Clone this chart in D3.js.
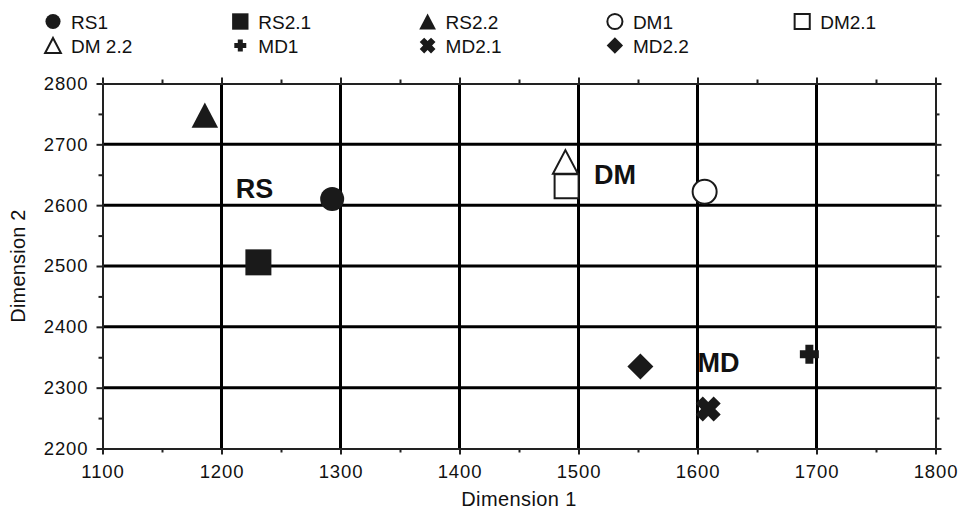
<!DOCTYPE html>
<html>
<head>
<meta charset="utf-8">
<script src="https://cdn.jsdelivr.net/npm/d3@7"></script>
<style>
  body { margin: 0; background: #fff; }
  text { font-family: "Liberation Sans", Arial, Helvetica, sans-serif; fill: #111; }
</style>
</head>
<body>
<div id="chart"></div>
<script>
// Data
var series = ["RS1", "RS2.1", "RS2.2", "DM1", "DM2.1", "DM 2.2", "MD1", "MD2.1", "MD2.2"];
var dim1 = [1293, 1231, 1186, 1606, 1490, 1489, 1694, 1609, 1552];
var dim2 = [2610, 2506, 2748, 2622, 2631, 2671, 2355, 2265, 2335];

// Group annotations
var groupNames = ["RS", "DM", "MD"];
var groupX = [1212, 1513, 1600];
var groupY = [2611, 2634, 2326];

// Axis ticks
var xTicks = [1100, 1200, 1300, 1400, 1500, 1600, 1700, 1800];
var xMinor = [1150, 1250, 1350, 1450, 1550, 1650, 1750];
var yTicks = [2200, 2300, 2400, 2500, 2600, 2700, 2800];
var yMinor = [2250, 2350, 2450, 2550, 2650, 2750];

var width = 961;
var height = 510;
var ink = "#1a1a1a";

var svg = d3
  .select("#chart")
  .append("svg")
  .attr("width", width)
  .attr("height", height);

var xScale = d3.scaleLinear().domain([1100, 1800]).range([102.5, 935.5]);
var yScale = d3.scaleLinear().domain([2200, 2800]).range([448.5, 83.5]);

// Marker shapes, sized by full width (size = width^2)
function poly(context, pts) {
  context.moveTo(pts[0][0], pts[0][1]);
  for (var i = 1; i < pts.length; i++) context.lineTo(pts[i][0], pts[i][1]);
  context.closePath();
}
var shapes = {
  circle: { draw: function(c, s) { var r = Math.sqrt(s) / 2; c.moveTo(r, 0); c.arc(0, 0, r, 0, 2 * Math.PI); } },
  square: { draw: function(c, s) { var h = Math.sqrt(s) / 2; c.rect(-h, -h, 2 * h, 2 * h); } },
  triangle: { draw: function(c, s) {
    var w = Math.sqrt(s) / 2, h = w * 0.95;
    poly(c, [[0, -h], [w, h], [-w, h]]);
  } },
  diamond: { draw: function(c, s) {
    var w = Math.sqrt(s) / 2;
    poly(c, [[0, -w], [w, 0], [0, w], [-w, 0]]);
  } },
  plus: { draw: function(c, s) {
    var a = Math.sqrt(s) / 2, b = a * 0.42;
    poly(c, [[-b, -a], [b, -a], [b, -b], [a, -b], [a, b], [b, b], [b, a], [-b, a], [-b, b], [-a, b], [-a, -b], [-b, -b]]);
  } },
  cross: { draw: function(c, s) {
    var w = Math.sqrt(s), b = w * 0.2, a = w / Math.SQRT2 - b;
    var pts = [[-b, -a], [b, -a], [b, -b], [a, -b], [a, b], [b, b], [b, a], [-b, a], [-b, b], [-a, b], [-a, -b], [-b, -b]];
    var k = Math.SQRT1_2;
    poly(c, pts.map(function(p) { return [(p[0] - p[1]) * k, (p[0] + p[1]) * k]; }));
  } }
};

// Style for each series (shape, filled, width in px)
var style = {
  "RS1": ["circle", true, 24],
  "RS2.1": ["square", true, 26],
  "RS2.2": ["triangle", true, 26.5],
  "DM1": ["circle", false, 24],
  "DM2.1": ["square", false, 24],
  "DM 2.2": ["triangle", false, 25],
  "MD1": ["plus", true, 19],
  "MD2.1": ["cross", true, 25],
  "MD2.2": ["diamond", true, 26]
};

function symbolPath(name, scale) {
  var st = style[name];
  var w = st[2] * scale;
  return d3.symbol().type(shapes[st[0]]).size(w * w)();
}
function applyStyle(sel, name, sw) {
  var st = style[name];
  sel.attr("fill", st[1] ? ink : "#fff")
    .attr("stroke", st[1] ? "none" : ink)
    .attr("stroke-width", sw);
}

// Grid lines at major ticks
var grid = svg.append("g").attr("class", "grid");
grid.selectAll(".vline")
  .data(xTicks.slice(1, -1))
  .enter()
  .append("line")
  .attr("x1", function(d) { return xScale(d); })
  .attr("x2", function(d) { return xScale(d); })
  .attr("y1", yScale(2800))
  .attr("y2", yScale(2200))
  .attr("stroke", "#000")
  .attr("stroke-width", 3);
grid.selectAll(".hline")
  .data(yTicks.slice(1, -1))
  .enter()
  .append("line")
  .attr("y1", function(d) { return yScale(d); })
  .attr("y2", function(d) { return yScale(d); })
  .attr("x1", xScale(1100))
  .attr("x2", xScale(1800))
  .attr("stroke", "#000")
  .attr("stroke-width", 3);

// Axes on all four sides, ticks outward
function styleAxis(g) {
  g.select(".domain").attr("stroke", "#222").attr("stroke-width", 2);
  g.selectAll(".tick line").attr("stroke", "#222").attr("stroke-width", 2);
  g.selectAll(".tick text")
    .attr("fill", "#111")
    .style("font-size", "18.5px")
    .style("letter-spacing", "0.9px")
    .style("font-family", "'Liberation Sans', Arial, sans-serif");
}
var bottomY = yScale(2200), topY = yScale(2800);
var leftX = xScale(1100), rightX = xScale(1800);

svg.append("g")
  .attr("transform", "translate(0," + bottomY + ")")
  .call(d3.axisBottom(xScale).tickValues(xTicks).tickSize(6).tickSizeOuter(0).tickPadding(10.5).tickFormat(d3.format("d")))
  .call(styleAxis);
svg.append("g")
  .attr("transform", "translate(0," + bottomY + ")")
  .call(d3.axisBottom(xScale).tickValues(xMinor).tickSize(4).tickSizeOuter(0).tickFormat(""))
  .call(styleAxis);
svg.append("g")
  .attr("transform", "translate(0," + topY + ")")
  .call(d3.axisTop(xScale).tickValues(xTicks).tickSize(6).tickSizeOuter(0).tickFormat(""))
  .call(styleAxis);
svg.append("g")
  .attr("transform", "translate(0," + topY + ")")
  .call(d3.axisTop(xScale).tickValues(xMinor).tickSize(4).tickSizeOuter(0).tickFormat(""))
  .call(styleAxis);
svg.append("g")
  .attr("transform", "translate(" + leftX + ",0)")
  .call(d3.axisLeft(yScale).tickValues(yTicks).tickSize(6).tickSizeOuter(0).tickPadding(8).tickFormat(d3.format("d")))
  .call(styleAxis);
svg.append("g")
  .attr("transform", "translate(" + leftX + ",0)")
  .call(d3.axisLeft(yScale).tickValues(yMinor).tickSize(4).tickSizeOuter(0).tickFormat(""))
  .call(styleAxis);
svg.append("g")
  .attr("transform", "translate(" + rightX + ",0)")
  .call(d3.axisRight(yScale).tickValues(yTicks).tickSize(6).tickSizeOuter(0).tickFormat(""))
  .call(styleAxis);
svg.append("g")
  .attr("transform", "translate(" + rightX + ",0)")
  .call(d3.axisRight(yScale).tickValues(yMinor).tickSize(4).tickSizeOuter(0).tickFormat(""))
  .call(styleAxis);

// Axis titles
svg.append("text")
  .attr("x", 519)
  .attr("y", 506)
  .attr("text-anchor", "middle")
  .style("font-size", "20px")
  .style("letter-spacing", "0.4px")
  .text("Dimension 1");
svg.append("text")
  .attr("transform", "translate(25,266) rotate(-90)")
  .attr("text-anchor", "middle")
  .style("font-size", "20px")
  .style("letter-spacing", "0.2px")
  .text("Dimension 2");

// Points
var idx = d3.range(series.length);
svg.append("g")
  .selectAll("path")
  .data(idx)
  .enter()
  .append("path")
  .attr("transform", function(i) { return "translate(" + xScale(dim1[i]) + "," + yScale(dim2[i]) + ")"; })
  .attr("d", function(i) { return symbolPath(series[i], 1); })
  .each(function(i) { applyStyle(d3.select(this), series[i], 2); });

// Group labels
svg.append("g")
  .selectAll("text")
  .data(groupNames)
  .enter()
  .append("text")
  .attr("x", function(d, i) { return xScale(groupX[i]); })
  .attr("y", function(d, i) { return yScale(groupY[i]); })
  .style("font-size", "27px")
  .style("font-weight", "bold")
  .attr("fill", "#000")
  .text(function(d) { return d; });

// Legend: 5 columns, 2 rows
var legend = svg.append("g")
  .selectAll("g")
  .data(idx)
  .enter()
  .append("g")
  .attr("transform", function(i) {
    return "translate(" + (53 + (i % 5) * 187.3) + "," + (21.5 + Math.floor(i / 5) * 24) + ")";
  });
legend.append("path")
  .attr("d", function(i) { return symbolPath(series[i], 0.63); })
  .each(function(i) { applyStyle(d3.select(this), series[i], 2); });
legend.append("text")
  .attr("x", 18)
  .attr("y", 7.5)
  .style("font-size", "19px")
  .text(function(i) { return series[i]; });
</script>
</body>
</html>
